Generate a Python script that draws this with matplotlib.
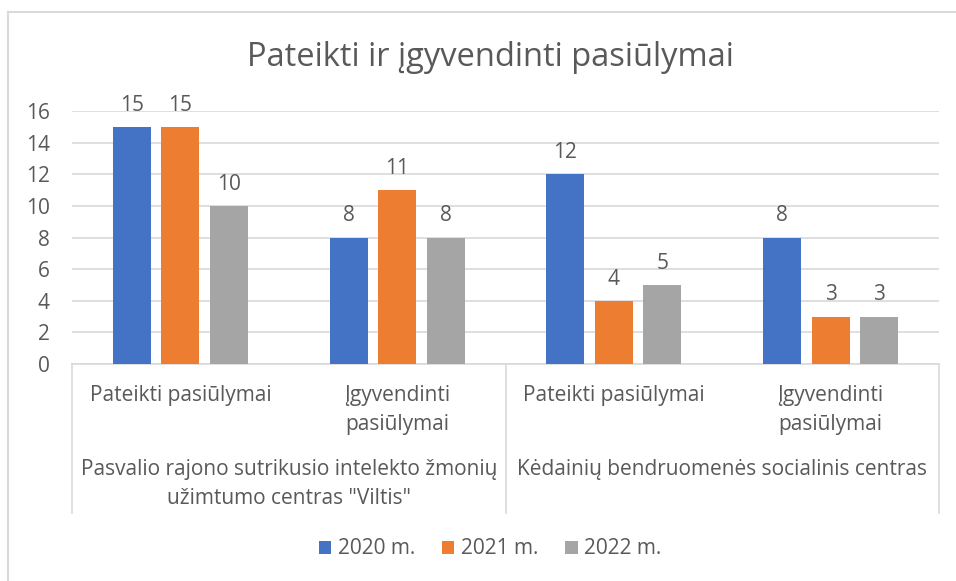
import matplotlib.pyplot as plt
import matplotlib.transforms as mtransforms
import numpy as np

groups = ['Pasvalio rajono sutrikusio intelekto žmonių\nužimtumo centras "Viltis"',
          'Kėdainių bendruomenės socialinis centras']
subcats = ['Pateikti pasiūlymai', 'Įgyvendinti\npasiūlymai',
           'Pateikti pasiūlymai', 'Įgyvendinti\npasiūlymai']
years = ['2020 m.', '2021 m.', '2022 m.']
v2020 = [15, 8, 12, 8]
v2021 = [15, 11, 4, 3]
v2022 = [10, 8, 5, 3]
colors = ['#4472C4', '#ED7D31', '#A5A5A5']

plt.rcParams['font.family'] = ['Open Sans', 'DejaVu Sans']
txt = '#595959'
grid_c = '#d9d9d9'
fs = 15

W, H = 956, 581
fig = plt.figure(figsize=(W / 100, H / 100), dpi=100)


def fy(p):
    return 1 - p / H


# chart frame (left and top visible)
fig.add_artist(plt.Line2D([8 / W, 8 / W], [0, fy(12)], color=grid_c, lw=1.5))
fig.add_artist(plt.Line2D([8 / W, 1], [fy(12), fy(12)], color=grid_c, lw=1.5))

left, right, top, bottom = 72, 939, 111, 364
ax = fig.add_axes([left / W, fy(bottom), (right - left) / W, (bottom - top) / H])

x = np.arange(len(subcats))
step = 0.224
width = 0.175
series = [v2020, v2021, v2022]
for i, vals in enumerate(series):
    bars = ax.bar(x + (i - 1) * step, vals, width, color=colors[i], label=years[i], zorder=3)
    for b, v in zip(bars, vals):
        ax.annotate(str(v), (b.get_x() + b.get_width() / 2, v), xytext=(0, 8),
                    textcoords='offset points', ha='center', va='bottom',
                    fontsize=fs, color=txt)

ax.set_xlim(-0.5, len(subcats) - 0.5)
ax.set_ylim(0, 16)
ax.set_yticks(range(0, 17, 2))
ax.yaxis.grid(True, color=grid_c, lw=1.2, zorder=0)
ax.tick_params(axis='y', length=0, labelsize=fs, labelcolor=txt, pad=16)
ax.set_xticks([])
for s in ['top', 'right', 'left']:
    ax.spines[s].set_visible(False)
ax.spines['bottom'].set_color(grid_c)
ax.spines['bottom'].set_linewidth(1.2)

# multi-level category axis
trans = mtransforms.blended_transform_factory(ax.transData, fig.transFigure)
for xi, lab in zip(x, subcats):
    ax.text(xi, fy(385), lab, transform=trans, ha='center', va='top',
            fontsize=fs, color=txt, linespacing=1.52)
for gi, g in enumerate(groups):
    ax.text(gi * 2 + 0.5, fy(459), g, transform=trans, ha='center', va='top',
            fontsize=fs, color=txt, linespacing=1.52)
for xs in [-0.5, 1.5, 3.5]:
    ax.plot([xs, xs], [fy(bottom), fy(513)], transform=trans, color=grid_c,
            lw=1.2, clip_on=False)

fig.text(490 / W, fy(58), 'Pateikti ir įgyvendinti pasiūlymai', ha='center', va='center',
         fontsize=23.5, color=txt)

fig.legend(loc='center', bbox_to_anchor=(490 / W, fy(549)), ncol=3, frameon=False,
           fontsize=fs, labelcolor=txt, handlelength=0.6, handleheight=0.6,
           handletextpad=0.3, columnspacing=1.3)

fig.savefig('out.png', dpi=100)
